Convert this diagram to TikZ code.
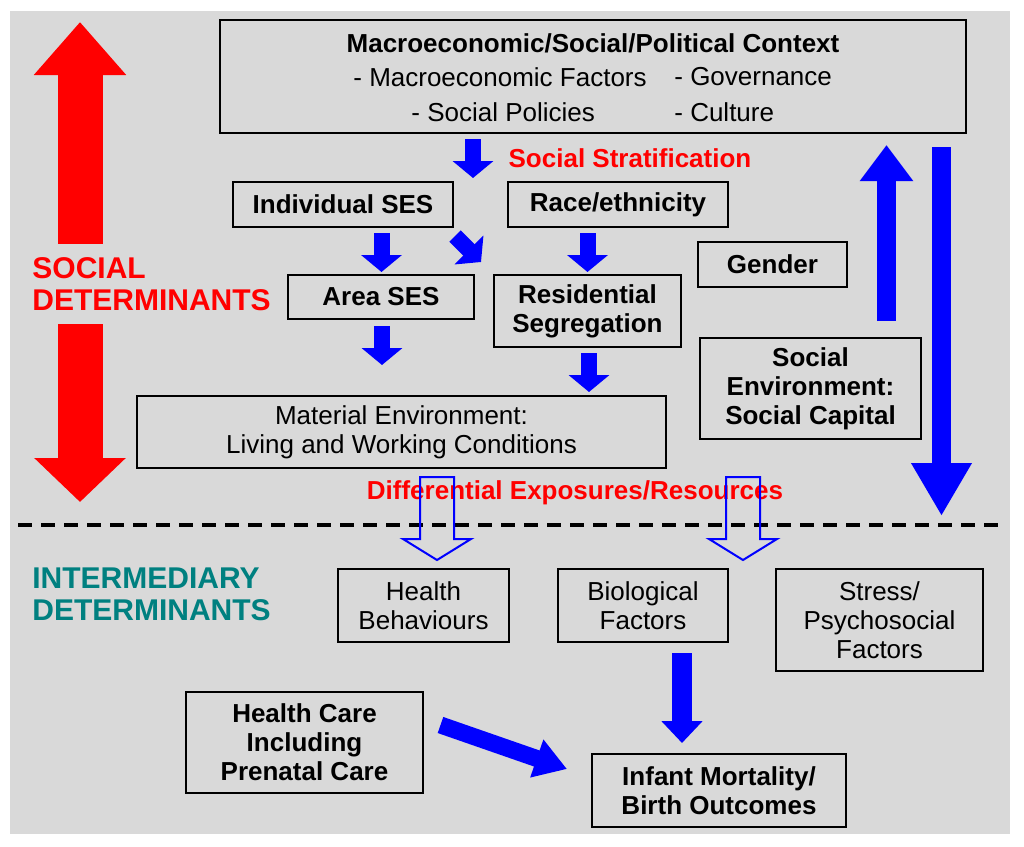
\documentclass[tikz,border=0pt]{standalone}
\usepackage{fontspec}
\setmainfont{Liberation Sans}
\usetikzlibrary{arrows.meta}

\definecolor{bggray}{RGB}{217,217,217}
\definecolor{detteal}{RGB}{0,128,128}

\newcommand{\boxfont}{\fontsize{13}{14.5}\selectfont}
\newcommand{\bigfont}{\fontsize{15}{16}\selectfont}

\tikzset{
  box/.style={draw, line width=1pt, align=center, inner sep=0pt, font=\boxfont\bfseries},
  plainbox/.style={box, font=\boxfont},
  fatarrow/.style={blue, line width=8pt, -{Triangle[width=20pt,length=8.5pt]}},
  hollowarrow/.style={blue, line width=1pt, line join=miter},
}

\begin{document}
\begin{tikzpicture}[x=0.5pt,y=-0.5pt]
\useasboundingbox (0,0) rectangle (1024,847);
\fill[white] (0,0) rectangle (1024,847);
\fill[bggray] (10,11) rectangle (1010,834);

\draw[line width=2pt, dash pattern=on 7pt off 4.5pt] (18,525) -- (1000,525);

% left red double arrow
\coordinate (redtop) at (80,22);
\coordinate (redbot) at (80,502);
\draw[red, line width=22.5pt, {Triangle[width=44.5pt,length=26.5pt]}-{Triangle[width=44.5pt,length=22pt]}] (redtop) -- (redbot);
\node[fill=bggray, text=red, font=\bigfont\bfseries, align=left, anchor=west, inner xsep=0pt, minimum height=40pt] (socdet) at (32,284) {SOCIAL\\DETERMINANTS};
\node[text=detteal, font=\bigfont\bfseries, align=left, anchor=west, inner xsep=0pt] (interdet) at (32,594) {INTERMEDIARY\\DETERMINANTS};

% context box
\node[box, minimum width=373pt, minimum height=56.5pt] (macro) at (593,76.5) {};
\node[font=\boxfont\bfseries] (macrotitle) at (593,43) {Macroeconomic/Social/Political Context};
\node[font=\boxfont, anchor=west, inner sep=0pt] (macrofac) at (353,77) {- Macroeconomic Factors};
\node[font=\boxfont, anchor=west, inner sep=0pt] (govern) at (674,77) {- Governance};
\node[font=\boxfont, anchor=west, inner sep=0pt] (policies) at (411,112) {- Social Policies};
\node[font=\boxfont, anchor=west, inner sep=0pt] (culture) at (674,112) {- Culture};

\node[text=red, font=\boxfont\bfseries] (strat) at (630,158) {Social Stratification};

\node[box, minimum width=110pt, minimum height=22.5pt] (indses) at (343,204.5) {Individual SES};
\node[box, minimum width=110pt, minimum height=22.5pt] (race) at (618,204.5) {Race/ethnicity};
\node[box, minimum width=74.5pt, minimum height=22.5pt] (gender) at (772.5,264.5) {Gender};
\node[box, minimum width=93pt, minimum height=22pt] (areases) at (381,297) {Area SES};
\node[box, minimum width=93.5pt, minimum height=36pt] (resseg) at (587.5,311) {Residential\\Segregation};
\node[box, minimum width=110.5pt, minimum height=50.5pt] (socenv) at (810.5,388.5) {Social\\Environment:\\Social Capital};
\node[plainbox, minimum width=264.5pt, minimum height=36pt] (material) at (401.5,432) {Material Environment:\\Living and Working Conditions};

\node[text=red, font=\boxfont\bfseries] (diffexp) at (575,493) {Differential Exposures/Resources};

\node[plainbox, minimum width=85.5pt, minimum height=36.5pt] (behav) at (423.5,605.5) {Health\\Behaviours};
\node[plainbox, minimum width=85pt, minimum height=36.5pt] (bio) at (643,605.5) {Biological\\Factors};
\node[plainbox, minimum width=103.5pt, minimum height=51pt] (stress) at (879.5,620) {Stress/\\Psychosocial\\Factors};
\node[box, minimum width=118.5pt, minimum height=50.5pt] (care) at (304.5,742.5) {Health Care\\Including\\Prenatal Care};
\node[box, minimum width=127pt, minimum height=36.5pt] (infant) at (719,790.5) {Infant Mortality/\\Birth Outcomes};

% blue block arrows
\coordinate (ctxs) at (473,139);   \coordinate (ctxe) at (473,178);
\coordinate (inds) at (381.5,233); \coordinate (inde) at (381.5,272);
\coordinate (diags) at (455,236);  \coordinate (diage) at (481,262);
\coordinate (races) at (587.5,233);\coordinate (racee) at (587.5,272);
\coordinate (areas) at (382,326);  \coordinate (areae) at (382,365);
\coordinate (segs) at (589,353);   \coordinate (sege) at (589,392);
\coordinate (bios) at (682,653);   \coordinate (bioe) at (682,743);
\coordinate (cares) at (440.5,725);\coordinate (caree) at (567,769);
\coordinate (ups) at (886.5,321);  \coordinate (upe) at (886.5,145);
\coordinate (downs) at (941.5,147);\coordinate (downe) at (941.5,516);

\draw[fatarrow] (ctxs) -- (ctxe);
\draw[fatarrow] (inds) -- (inde);
\draw[fatarrow] (diags) -- (diage);
\draw[fatarrow] (races) -- (racee);
\draw[fatarrow] (areas) -- (areae);
\draw[fatarrow] (segs) -- (sege);
\draw[fatarrow, line width=10pt, -{Triangle[width=20pt,length=11pt]}] (bios) -- (bioe);
\draw[fatarrow, line width=8.5pt, -{Triangle[width=19pt,length=16pt]}] (cares) -- (caree);
\draw[fatarrow, line width=9.5pt, -{Triangle[width=25.5pt,length=18pt]}] (ups) -- (upe);
\draw[fatarrow, line width=9.5pt, -{Triangle[width=28.5pt,length=26.5pt]}] (downs) -- (downe);

% hollow arrows
\foreach \x in {437,743}
  \draw[hollowarrow] (\x-17,477) -- (\x+17,477) -- (\x+17,539) -- (\x+34,539)
    -- (\x,560) -- (\x-34,539) -- (\x-17,539) -- cycle;

\end{tikzpicture}
\end{document}
